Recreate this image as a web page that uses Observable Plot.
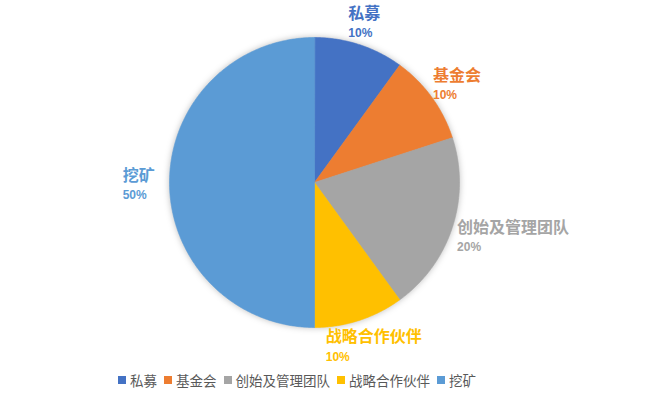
<!DOCTYPE html>
<html>
<head>
<meta charset="utf-8">
<script src="https://cdn.jsdelivr.net/npm/d3@7"></script>
<script src="https://cdn.jsdelivr.net/npm/@observablehq/plot@0.6"></script>
<style>
  body { margin: 0; background: #fff; font-family: "Noto Sans CJK SC", "Noto Sans", sans-serif; }
  #chart { position: relative; width: 650px; height: 399px; overflow: hidden; }
  #legend { position: absolute; left: 118px; top: 370px; display: flex; align-items: center; font-size: 13.5px; color: #595959; line-height: 20px; white-space: nowrap; }
  #legend .item { display: flex; align-items: center; margin-right: 7px; }
  #legend .sw { width: 8px; height: 8px; margin-right: 4px; }
  svg g[aria-label="line"] { filter: drop-shadow(0 0 3px rgba(0,0,0,0.25)); }
</style>
</head>
<body>
<div id="chart"></div>
<script>
const categories = ["私募", "基金会", "创始及管理团队", "战略合作伙伴", "挖矿"];
const shares = [10, 10, 20, 10, 50];
const colors = ["#4472C4", "#ED7D31", "#A5A5A5", "#FFC000", "#5B9BD5"];

const W = 650, H = 370, cx = 314, cy = 182, R = 145;

// build slice polygons from the shares (angles clockwise from 12 o'clock)
const total = d3.sum(shares);
const polys = [];
const labels = [];
let acc = 0;
categories.forEach((name, i) => {
  const a0 = acc / total * 2 * Math.PI;
  acc += shares[i];
  const a1 = acc / total * 2 * Math.PI;
  polys.push({name, x: 0, y: 0, k: 0});
  const n = Math.max(2, Math.ceil((a1 - a0) / 0.01));
  for (let j = 0; j <= n; j++) {
    const a = a0 + (a1 - a0) * j / n;
    polys.push({name, x: Math.sin(a), y: Math.cos(a), k: j + 1});
  }
  const am = (a0 + a1) / 2;
  const w = name.length * 16.4 + 6, h = 34;
  const r = 1 + 8 / R;
  const mx = Math.sin(am) * r + Math.sin(am) * (w / 2) / R;
  const my = Math.cos(am) * r + Math.cos(am) * (h / 2) / R;
  labels.push({name, pct: shares[i] + "%", x: mx - (w / 2) / R, y: my});
});

const plot = Plot.plot({
  width: W, height: H,
  margin: 0,
  x: {domain: [-cx / R, (W - cx) / R], axis: null},
  y: {domain: [-(H - cy) / R, cy / R], axis: null},
  color: {domain: categories, range: colors},
  style: {background: "transparent"},
  marks: [
    Plot.line(polys, {x: "x", y: "y", z: "name", fill: "name", stroke: "name", strokeWidth: 0.6, curve: "linear-closed"}),
    Plot.text(labels, {x: "x", y: "y", text: "name", fill: "name", textAnchor: "start", dy: -7, fontSize: 16, fontWeight: "bold", fontFamily: "Noto Sans CJK SC"}),
    Plot.text(labels, {x: "x", y: "y", text: "pct", fill: "name", textAnchor: "start", dy: 12.5, fontSize: 12, fontWeight: "bold", fontFamily: "Liberation Sans Narrow, Liberation Sans, sans-serif"})
  ]
});

const chart = document.getElementById("chart");
chart.appendChild(plot);

const legend = document.createElement("div");
legend.id = "legend";
categories.forEach((c, i) => {
  const it = document.createElement("div");
  it.className = "item";
  const sw = document.createElement("span");
  sw.className = "sw";
  sw.style.background = colors[i];
  const t = document.createElement("span");
  t.textContent = c;
  it.appendChild(sw); it.appendChild(t);
  legend.appendChild(it);
});
chart.appendChild(legend);
</script>
</body>
</html>
